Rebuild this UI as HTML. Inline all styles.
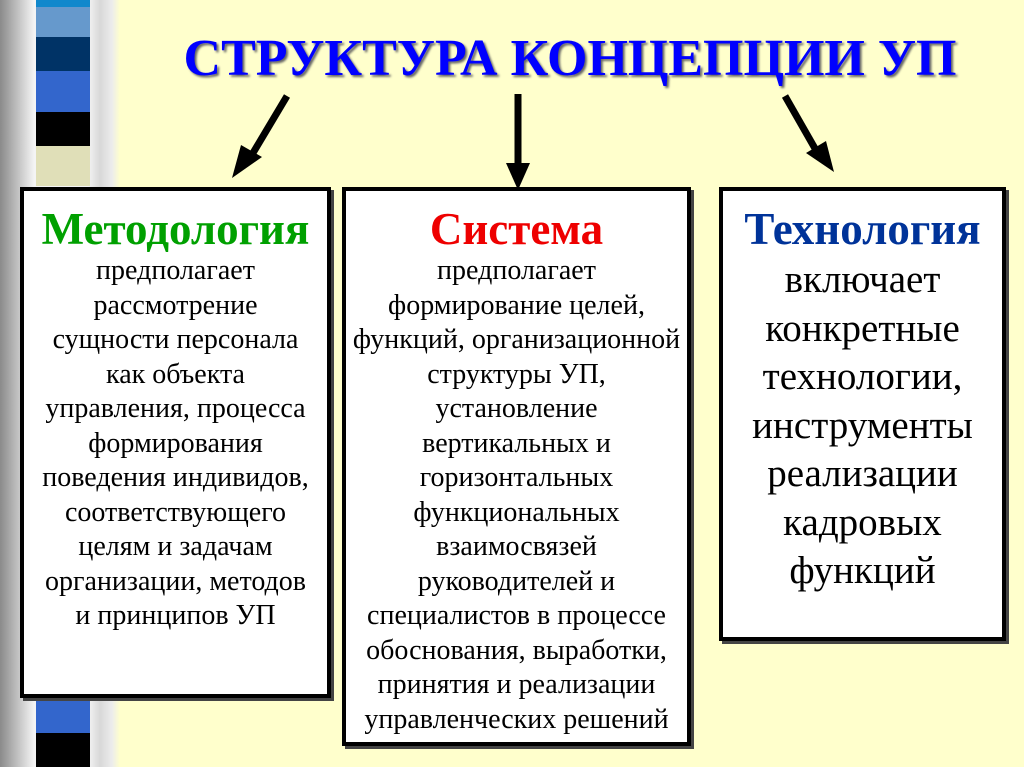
<!DOCTYPE html>
<html><head><meta charset="utf-8"><style>
*{margin:0;padding:0;box-sizing:border-box}
body{width:1024px;height:767px;background:#ffffcc;position:relative;overflow:hidden;font-family:"Liberation Serif",serif}
.strip{position:absolute;left:0;top:0;width:120px;height:767px;background:linear-gradient(90deg,#8a8a8a 0,#c8c8c8 20px,#f4f4f4 34px,#f4f4f4 88px,#d8d8d8 100px,#ececec 112px,#ffffcc 120px)}
.st{position:absolute;left:36px;width:54px}
.box{position:absolute;background:#fff;border:4px solid #000;text-align:center;box-shadow:3px 3px 0 #444;white-space:nowrap}
.h{font-weight:bold;font-size:45px;line-height:44px}
.t{font-size:28px;line-height:34.5px}
.t2{font-size:39px;line-height:48.5px}
h1{position:absolute;left:0;width:1140px;top:29px;text-align:center;font-size:52px;color:#0000ff;font-weight:bold;text-shadow:2px 2px 2px #666}
</style></head><body>
<div class="strip"></div>
<div class="st" style="top:0;height:7px;background:#1188cc"></div>
<div class="st" style="top:7px;height:30px;background:#6699cc"></div>
<div class="st" style="top:37px;height:34px;background:#003366"></div>
<div class="st" style="top:71px;height:41px;background:#3366cc"></div>
<div class="st" style="top:112px;height:34px;background:#000"></div>
<div class="st" style="top:146px;height:40px;background:#e0dfb8"></div>
<div class="st" style="top:697px;height:36px;background:#3366cc"></div>
<div class="st" style="top:733px;height:34px;background:#000"></div>
<h1>СТРУКТУРА КОНЦЕПЦИИ УП</h1>
<svg style="position:absolute;left:0;top:0" width="1024" height="767">
<g stroke="#000" stroke-width="7">
<line x1="287" y1="96" x2="250" y2="158"/>
<line x1="518" y1="94" x2="518" y2="170"/>
<line x1="785" y1="96" x2="817" y2="152"/>
</g>
<polygon points="232,178 241,145 262,157"/>
<polygon points="518,190 506,163 530,163"/>
<polygon points="834,172 806,153 826,141"/>
</svg>
<div class="box" style="left:20px;top:187px;width:311px;height:511px">
<div class="h" style="color:#00a000;margin-top:16px">Методология</div>
<div class="t" style="margin-top:3px">предполагает<br>рассмотрение<br>сущности персонала<br>как объекта<br>управления, процесса<br>формирования<br>поведения индивидов,<br>соответствующего<br>целям и задачам<br>организации, методов<br>и принципов УП</div>
</div>
<div class="box" style="left:342px;top:187px;width:349px;height:559px">
<div class="h" style="color:#ee0000;margin-top:16px">Система</div>
<div class="t" style="margin-top:3px">предполагает<br>формирование целей,<br>функций, организационной<br>структуры УП,<br>установление<br>вертикальных и<br>горизонтальных<br>функциональных<br>взаимосвязей<br>руководителей и<br>специалистов в процессе<br>обоснования, выработки,<br>принятия и реализации<br>управленческих решений</div>
</div>
<div class="box" style="left:719px;top:187px;width:287px;height:454px">
<div class="h" style="color:#003399;margin-top:16px">Технология</div>
<div class="t2" style="margin-top:5px">включает<br>конкретные<br>технологии,<br>инструменты<br>реализации<br>кадровых<br>функций</div>
</div>
</body></html>
